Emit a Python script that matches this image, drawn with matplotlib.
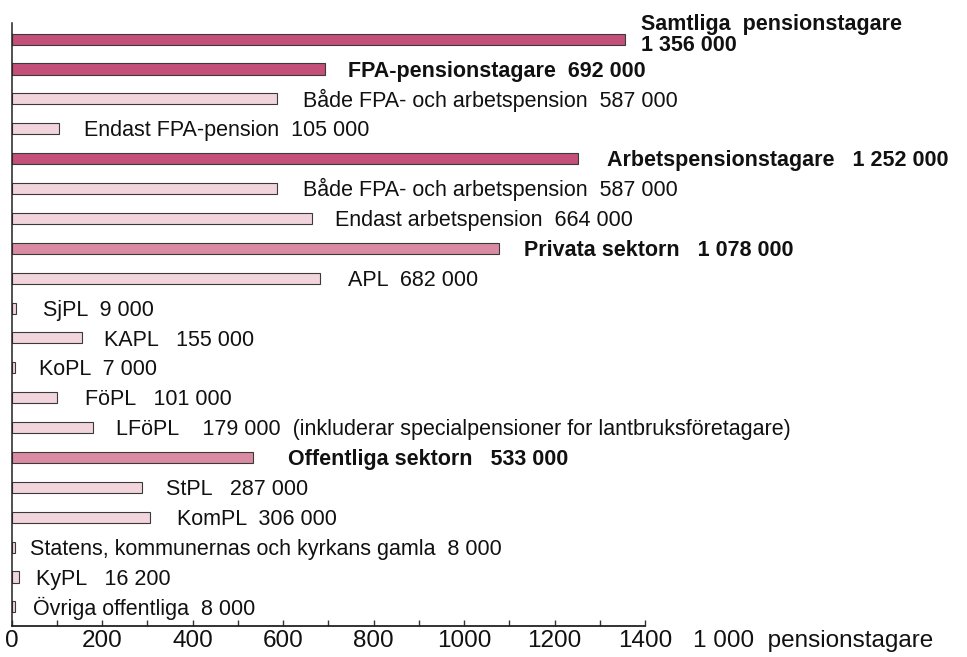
import matplotlib
matplotlib.use("Agg")
import matplotlib.pyplot as plt
from matplotlib import font_manager
from matplotlib.ticker import MultipleLocator

# Antal pensionstagare, 1 000 personer
labels = [
    "Samtliga  pensionstagare\n1 356 000",
    "FPA-pensionstagare  692 000",
    "Både FPA- och arbetspension  587 000",
    "Endast FPA-pension  105 000",
    "Arbetspensionstagare   1 252 000",
    "Både FPA- och arbetspension  587 000",
    "Endast arbetspension  664 000",
    "Privata sektorn   1 078 000",
    "APL  682 000",
    "SjPL  9 000",
    "KAPL   155 000",
    "KoPL  7 000",
    "FöPL   101 000",
    "LFöPL    179 000  (inkluderar specialpensioner for lantbruksföretagare)",
    "Offentliga sektorn   533 000",
    "StPL   287 000",
    "KomPL  306 000",
    "Statens, kommunernas och kyrkans gamla  8 000",
    "KyPL   16 200",
    "Övriga offentliga  8 000",
]
values = [1356, 692, 587, 105, 1252, 587, 664, 1078, 682, 9, 155, 7, 101, 179,
          533, 287, 306, 8, 16.2, 8]
# 0 = huvudgrupp, 1 = sektor, 2 = delgrupp
level = [0, 0, 2, 2, 0, 2, 2, 1, 2, 2, 2, 2, 2, 2, 1, 2, 2, 2, 2, 2]
xticks = [0, 200, 400, 600, 800, 1000, 1200, 1400]
unit_label = "1 000  pensionstagare"

# layout: gap between bar end and label, in pixels
gap_px = [16, 23, 26, 25, 29, 26, 23, 25, 28, 27, 22, 24, 28, 23, 35, 24, 27, 15, 17, 18]

colors = {0: "#C4507A", 1: "#D98BA3", 2: "#F2D4DD"}
edge = "#3a3a3a"

names = {f.name for f in font_manager.fontManager.ttflist}
if "Liberation Sans Narrow" in names:
    tick_font, tick_size = "Liberation Sans Narrow", 19.5
else:
    tick_font, tick_size = "Liberation Sans", 17.5
plt.rcParams["font.family"] = ["Liberation Sans", "DejaVu Sans"]

dpi = 100
fig = plt.figure(figsize=(9.67, 6.57), dpi=dpi)
ax = fig.add_axes([0.0121, 0.0472, 0.667 - 0.0121, 0.965 - 0.0472])

n = len(values)
ypos = list(range(n))
ax.barh(ypos, values, height=0.37, color=[colors[l] for l in level],
        edgecolor=edge, linewidth=0.8)

px2pt = 72 / dpi
fs = 15.5
for i, (v, lab, lv) in enumerate(zip(values, labels, level)):
    bold = lv < 2
    if "\n" in lab:
        ax.annotate(lab, (v, i), xytext=(gap_px[i] * px2pt, 3), textcoords="offset points",
                    ha="left", va="center", fontsize=fs, fontweight="bold",
                    linespacing=1.0, color="#111111")
    else:
        ax.annotate(lab, (v, i), xytext=(gap_px[i] * px2pt, -5.5), textcoords="offset points",
                    ha="left", va="baseline", fontsize=fs,
                    fontweight="bold" if bold else "normal", color="#111111")

ax.set_xlim(0, 1400)
ax.set_ylim(n - 1 + 0.64, -0.54)
ax.set_xticks(xticks)
ax.xaxis.set_minor_locator(MultipleLocator(100))
ax.set_xticklabels([str(t) for t in xticks], fontfamily=tick_font, fontsize=tick_size,
                   color="#111111")
ax.tick_params(axis="x", which="both", direction="in", length=4, width=1,
               pad=3, color="#333333")
ax.set_yticks([])
for s in ("top", "right"):
    ax.spines[s].set_visible(False)
ax.spines["left"].set_linewidth(1.1)
ax.spines["bottom"].set_linewidth(1.3)
ax.spines["left"].set_color("#222222")
ax.spines["bottom"].set_color("#222222")

ax.annotate(unit_label, (1.076, 0), xycoords="axes fraction", xytext=(0, -3),
            textcoords="offset points", ha="left", va="top",
            fontfamily=tick_font, fontsize=tick_size, color="#111111",
            annotation_clip=False)

fig.savefig("out.png", dpi=dpi)
